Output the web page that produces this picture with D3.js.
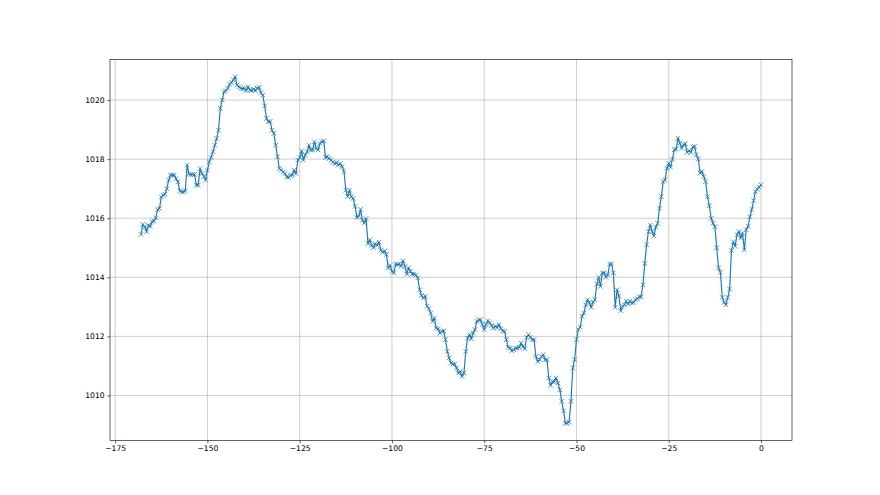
<!DOCTYPE html>
<html>
<head>
<meta charset="utf-8">
<script src="https://cdn.jsdelivr.net/npm/d3@7"></script>
<style>
body { margin: 0; background: #fff; }
svg { display: block; }
text { font-family: "DejaVu Sans", sans-serif; font-size: 7.64px; fill: #000; }
</style>
</head>
<body>
<svg width="880" height="495"></svg>
<script>
// pressure readings, every half hour, oldest first
var startHour = -168;
var stepHours = 0.5;

var pressure1 = [1015.45, 1015.79, 1015.71, 1015.54, 1015.76, 1015.73, 1015.88, 1015.91, 1016.01, 1016.29,
    1016.33, 1016.72, 1016.78, 1016.81, 1017.0, 1017.29, 1017.46, 1017.46, 1017.46, 1017.34,
    1017.23, 1016.93, 1016.89, 1016.89, 1016.93, 1017.8, 1017.49, 1017.48, 1017.48, 1017.48,
    1017.12, 1017.12, 1017.68, 1017.51, 1017.42, 1017.29, 1017.63, 1017.91, 1018.06, 1018.25,
    1018.47, 1018.7, 1018.98, 1019.72, 1020.0, 1020.28, 1020.32, 1020.4, 1020.54, 1020.59,
    1020.68, 1020.79, 1020.51, 1020.45];
var pressure2 = [1020.4, 1020.38, 1020.4, 1020.32, 1020.45, 1020.34, 1020.32, 1020.36, 1020.32, 1020.4,
    1020.43, 1020.25, 1020.17, 1019.8, 1019.38, 1019.27, 1019.27, 1018.98, 1018.87, 1018.47,
    1018.08, 1017.68, 1017.63, 1017.57, 1017.51, 1017.4, 1017.38, 1017.45, 1017.46, 1017.63,
    1017.51, 1017.97, 1018.06, 1018.28, 1017.97, 1018.14, 1018.25, 1018.47, 1018.31, 1018.31,
    1018.59, 1018.36, 1018.31, 1018.53, 1018.59, 1018.62, 1018.06, 1018.08, 1018.02, 1017.97,
    1017.9, 1017.85, 1017.88, 1017.8, 1017.85, 1017.75];
var pressure3 = [1017.58, 1016.95, 1016.73, 1016.95, 1016.73, 1016.67, 1016.4, 1016.02, 1016.07, 1016.3,
    1015.93, 1015.84, 1015.99, 1015.14, 1015.27, 1015.08, 1015.0, 1015.14, 1015.08, 1015.19,
    1014.91, 1014.85, 1014.89, 1014.77, 1014.32, 1014.4];
var pressure4 = [1014.2, 1014.15, 1014.45, 1014.43, 1014.45, 1014.37, 1014.56, 1014.37, 1014.11, 1014.32,
    1014.2, 1014.11, 1014.11, 1014.07, 1013.98, 1013.58, 1013.39, 1013.3, 1013.36, 1013.02,
    1012.94, 1012.79, 1012.51, 1012.62, 1012.28, 1012.26, 1012.11, 1012.17, 1012.19, 1011.89,
    1011.49, 1011.27, 1011.1, 1011.06, 1011.06, 1010.93, 1010.76, 1010.81, 1010.64, 1010.76,
    1011.49, 1011.94, 1012.06, 1011.92, 1012.11, 1012.23, 1012.51, 1012.56, 1012.56, 1012.4,
    1012.23, 1012.4, 1012.53, 1012.45, 1012.37, 1012.28, 1012.34, 1012.3, 1012.4, 1012.26,
    1012.19, 1012.17, 1011.89, 1011.63, 1011.6, 1011.51, 1011.55, 1011.6, 1011.6, 1011.63,
    1011.77, 1011.66, 1011.58, 1011.97, 1012.06, 1011.97, 1011.89, 1011.89, 1011.32, 1011.15];
var pressure5 = [1011.21, 1011.32, 1011.38, 1011.21, 1011.21, 1010.59, 1010.34, 1010.47, 1010.47, 1010.59,
    1010.42, 1010.19, 1009.8, 1009.48, 1009.06, 1009.06, 1009.1, 1009.8, 1010.93, 1011.21,
    1011.89, 1012.23, 1012.31, 1012.68, 1012.79, 1013.07, 1013.24, 1013.13, 1012.98, 1013.16,
    1013.24, 1013.77, 1014.0, 1013.69, 1014.15, 1014.15, 1014.0, 1014.09, 1014.45, 1014.45,
    1014.15, 1012.98, 1013.58, 1013.36, 1012.87, 1013.02, 1013.07, 1013.19, 1013.1, 1013.19,
    1013.13, 1013.15, 1013.24, 1013.28];
var pressure6 = [1013.34, 1013.34, 1013.74, 1014.47, 1015.1, 1015.55, 1015.77, 1015.55, 1015.4, 1015.7,
    1015.83, 1016.34, 1016.73, 1017.24, 1017.3, 1017.69, 1017.86, 1017.73, 1018.0, 1018.32,
    1018.34, 1018.71, 1018.54, 1018.37, 1018.49, 1018.52, 1018.23, 1018.29, 1018.23, 1018.41,
    1018.43, 1018.15, 1018.0, 1017.53, 1017.58, 1017.41, 1017.24, 1016.73, 1016.42, 1016.0,
    1015.83, 1015.71, 1015.0, 1014.32, 1014.17, 1013.32, 1013.15, 1013.07, 1013.32, 1013.6,
    1014.91, 1015.2, 1015.05, 1015.44, 1015.55, 1015.33, 1015.5, 1014.93, 1015.61, 1015.73,
    1016.05, 1016.3, 1016.6, 1016.9, 1016.98, 1017.05, 1017.13];

var xTicks = [-175, -150, -125, -100, -75, -50, -25, 0];
var yTicks = [1010, 1012, 1014, 1016, 1018, 1020];

var values = [].concat(pressure1, pressure2, pressure3, pressure4, pressure5, pressure6);
var data = values.map(function (v, i) {
    return { hour: startHour + i * stepHours, value: v };
});

var svg = d3.select("svg"),
    width = +svg.attr("width"),
    height = +svg.attr("height");

// matplotlib default subplot box
var axLeft = 0.125 * width,
    axRight = 0.9 * width,
    axTop = 0.12 * height,
    axBottom = 0.89 * height;

svg.append("rect").attr("width", width).attr("height", height).attr("fill", "#fff");

var xExt = d3.extent(data, function (d) { return d.hour; });
var yExt = d3.extent(data, function (d) { return d.value; });
var xPad = (xExt[1] - xExt[0]) * 0.05,
    yPad = (yExt[1] - yExt[0]) * 0.05;

var x = d3.scaleLinear()
    .domain([xExt[0] - xPad, xExt[1] + xPad])
    .range([axLeft, axRight]);
var y = d3.scaleLinear()
    .domain([yExt[0] - yPad, yExt[1] + yPad])
    .range([axBottom, axTop]);

var grid = svg.append("g").attr("class", "grid")
    .attr("stroke", "#b0b0b0")
    .attr("stroke-width", 0.61);

grid.selectAll("line.gx")
    .data(xTicks)
    .enter().append("line")
    .attr("class", "gx")
    .attr("x1", function (d) { return x(d); })
    .attr("x2", function (d) { return x(d); })
    .attr("y1", axTop)
    .attr("y2", axBottom);

grid.selectAll("line.gy")
    .data(yTicks)
    .enter().append("line")
    .attr("class", "gy")
    .attr("x1", axLeft)
    .attr("x2", axRight)
    .attr("y1", function (d) { return y(d); })
    .attr("y2", function (d) { return y(d); });

var line = d3.line()
    .x(function (d) { return x(d.hour); })
    .y(function (d) { return y(d.value); });

svg.append("path")
    .datum(data)
    .attr("fill", "none")
    .attr("stroke", "#1f77b4")
    .attr("stroke-width", 1.15)
    .attr("stroke-linejoin", "round")
    .attr("d", line);

var m = 2.29;
svg.append("g")
    .attr("class", "markers")
    .selectAll("path")
    .data(data)
    .enter().append("path")
    .attr("transform", function (d) {
        return "translate(" + x(d.hour) + "," + y(d.value) + ")";
    })
    .attr("d", "M" + (-m) + "," + (-m) + "L" + m + "," + m + "M" + (-m) + "," + m + "L" + m + "," + (-m))
    .attr("stroke", "#1f77b4")
    .attr("stroke-width", 0.76)
    .attr("fill", "none");

var fmt = d3.format("d");

var xAxis = svg.append("g")
    .attr("transform", "translate(0," + axBottom + ")")
    .call(d3.axisBottom(x).tickValues(xTicks).tickFormat(fmt).tickSize(2.67).tickPadding(2.67));
var yAxis = svg.append("g")
    .attr("transform", "translate(" + axLeft + ",0)")
    .call(d3.axisLeft(y).tickValues(yTicks).tickFormat(fmt).tickSize(2.67).tickPadding(2.67));

[xAxis, yAxis].forEach(function (ax) {
    ax.select(".domain").remove();
    ax.selectAll(".tick line").attr("stroke", "#000").attr("stroke-width", 0.61);
    ax.selectAll(".tick text")
        .attr("fill", "#000")
        .style("font-family", "'DejaVu Sans', sans-serif")
        .style("font-size", "7.64px");
});

// spines
svg.append("rect")
    .attr("x", axLeft)
    .attr("y", axTop)
    .attr("width", axRight - axLeft)
    .attr("height", axBottom - axTop)
    .attr("fill", "none")
    .attr("stroke", "#000")
    .attr("stroke-width", 0.61);
</script>
</body>
</html>
